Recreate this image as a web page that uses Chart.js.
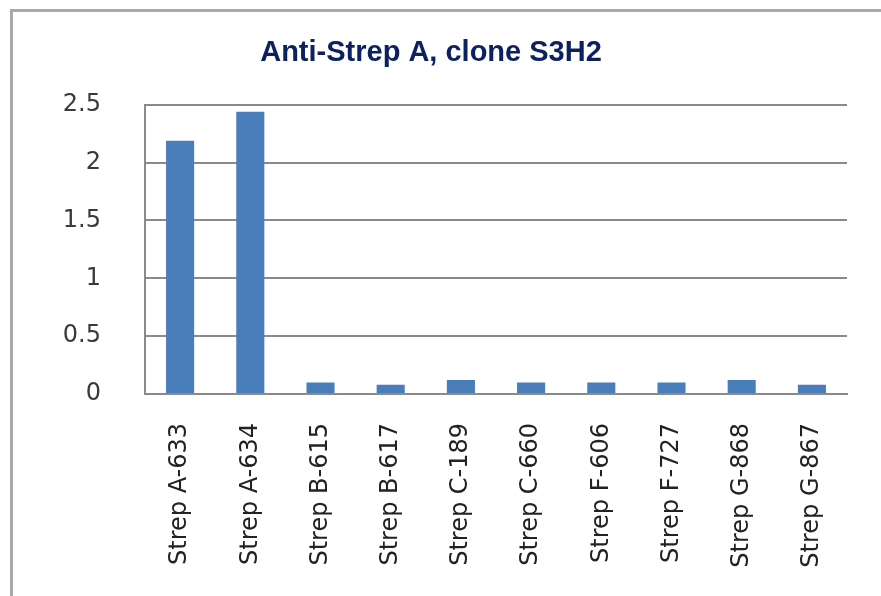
<!DOCTYPE html>
<html>
<head>
<meta charset="utf-8">
<script src="https://cdn.jsdelivr.net/npm/chart.js@4"></script>
<style>
    html, body { margin: 0; padding: 0; background: #fff; }
    #viewport { position: relative; width: 881px; height: 596px; overflow: hidden; }
    #frame {
        position: absolute; left: 10px; top: 9px; width: 900px; height: 620px;
        border-top: 3px solid #a9a9a9; border-left: 3px solid #a9a9a9;
        pointer-events: none;
    }
</style>
</head>
<body>
<div id="viewport">
    <canvas id="view-canvas" width="881" height="596"></canvas>
    <div id="frame"></div>
</div>
<script>
var canvas = document.getElementById('view-canvas');

// data
var categories = ['Strep A-633', 'Strep A-634', 'Strep B-615', 'Strep B-617', 'Strep C-189',
    'Strep C-660', 'Strep F-606', 'Strep F-727', 'Strep G-868', 'Strep G-867'];
var values = [2.19, 2.44, 0.10, 0.08, 0.12, 0.10, 0.10, 0.10, 0.12, 0.08];
var yTicks = [0, 0.5, 1, 1.5, 2, 2.5];
var titleText = 'Anti-Strep A, clone S3H2';

var gridColor = '#8a8a8a';

var myChart = new Chart(canvas, {
    type: 'bar',
    data: {
        labels: categories,
        datasets: [{
            data: values,
            backgroundColor: '#4a7ebb',
            borderWidth: 0,
            barPercentage: 0.4,
            categoryPercentage: 1
        }]
    },
    options: {
        responsive: false,
        animation: false,
        layout: { padding: { left: 2, right: 21, top: 0, bottom: 0 } },
        plugins: {
            legend: { display: false },
            tooltip: { enabled: false },
            title: {
                display: true,
                text: titleText,
                color: '#0d205f',
                font: { family: 'Liberation Sans', size: 29, weight: 'bold' },
                padding: { top: 36, bottom: 34 }
            }
        },
        scales: {
            x: {
                grid: { display: false, drawTicks: false },
                border: { display: true, color: gridColor, width: 2 },
                ticks: {
                    minRotation: 90,
                    maxRotation: 90,
                    padding: 29,
                    color: '#222',
                    font: { family: 'DejaVu Sans', size: 24 }
                },
                afterFit: function (scale) { scale.height = 202; }
            },
            y: {
                min: 0,
                max: 2.5,
                afterBuildTicks: function (scale) {
                    scale.ticks = yTicks.map(function (v) { return { value: v }; });
                },
                grid: { color: gridColor, lineWidth: 2, drawTicks: false },
                border: { display: true, color: gridColor, width: 2 },
                ticks: {
                    padding: 44,
                    color: '#3a3a3a',
                    font: { family: 'DejaVu Sans', size: 24 },
                    callback: function (v) { return String(v); }
                },
                afterFit: function (scale) { scale.width = 143; }
            },
            // empty right-hand strip so the plot ends where the reference does
            yRight: {
                position: 'right',
                min: 0,
                max: 2.5,
                grid: { display: false },
                border: { display: false },
                ticks: { display: false },
                afterFit: function (scale) { scale.width = 13; }
            }
        }
    }
});
</script>
</body>
</html>
